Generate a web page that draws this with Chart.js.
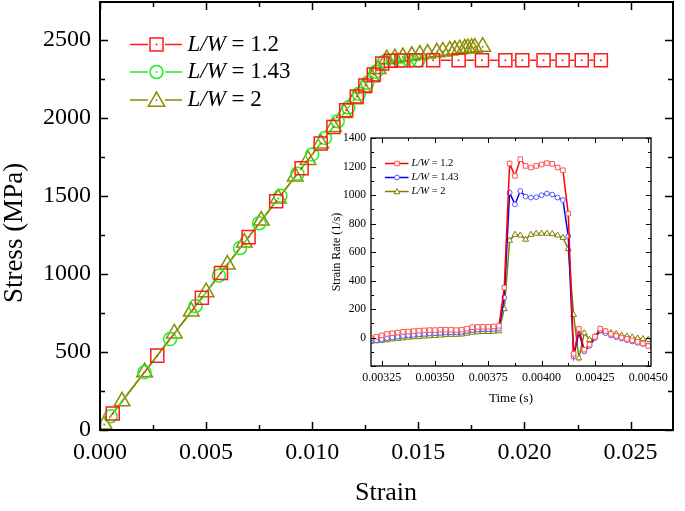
<!DOCTYPE html>
<html>
<head>
<meta charset="utf-8">
<script src="https://cdn.jsdelivr.net/npm/chart.js@4/dist/chart.umd.min.js"></script>
<style>
html,body{margin:0;padding:0;background:#fff;}
#wrap{position:relative;width:685px;height:511px;}
canvas{position:absolute;left:0;top:0;}
</style>
</head>
<body>
<div id="wrap">
<canvas id="main" width="685" height="511"></canvas>
<canvas id="inset" width="685" height="511"></canvas>
</div>
<script>
// ---------- main chart data ----------
const seriesNames = ['1.2', '1.43', '2'];
const strainLW12 = [0.0006, 0.0027, 0.0048, 0.0057, 0.0070, 0.0083, 0.0095, 0.0104, 0.0110, 0.0116, 0.0121, 0.0125, 0.0129, 0.0133, 0.0137, 0.0142, 0.0149, 0.0157, 0.0169, 0.0180, 0.0191, 0.0199, 0.0209, 0.0218, 0.0227, 0.0236];
const stressLW12 = [106, 477, 848, 1007, 1237, 1467, 1679, 1838, 1944, 2050, 2139, 2209, 2280, 2351, 2368, 2370, 2371, 2372, 2372, 2372, 2372, 2372, 2372, 2372, 2372, 2372];
const strainLW143 = [0.0005, 0.0021, 0.0033, 0.0045, 0.0056, 0.0066, 0.0075, 0.0085, 0.0093, 0.0100, 0.0106, 0.0112, 0.0117, 0.0122, 0.0126, 0.0130, 0.0134, 0.0138, 0.0142, 0.0146, 0.0150];
const stressLW143 = [88, 371, 583, 795, 990, 1167, 1326, 1502, 1644, 1767, 1873, 1980, 2068, 2156, 2227, 2298, 2362, 2368, 2370, 2371, 2372];
const strainLW2 = [0.0002, 0.00104, 0.0021, 0.0035, 0.0043, 0.0050, 0.0060, 0.0068, 0.0076, 0.0084, 0.0092, 0.0098, 0.0104, 0.0110, 0.0115, 0.0120, 0.0124, 0.0128, 0.0131, 0.01351, 0.01389, 0.01427, 0.01469, 0.01507, 0.01544, 0.01587, 0.01615, 0.01648, 0.01672, 0.01695, 0.01719, 0.01733, 0.01751, 0.01766, 0.01803];
const stressLW2 = [35, 184, 371, 619, 760, 884, 1061, 1202, 1343, 1485, 1626, 1732, 1838, 1944, 2033, 2121, 2192, 2262, 2315, 2378, 2385, 2392, 2400, 2408, 2414, 2422, 2428, 2434, 2438, 2442, 2446, 2449, 2451, 2453, 2458];
const strainTicks = [0, 0.005, 0.010, 0.015, 0.020, 0.025];
const strainMinor = [0.0025, 0.0075, 0.0125, 0.0175, 0.0225];
const stressTicks = [0, 500, 1000, 1500, 2000, 2500];
const stressMinor = [250, 750, 1250, 1750, 2250];

// ---------- inset data ----------
const timeS = [0.0032, 0.003225, 0.00325, 0.003275, 0.0033, 0.003325, 0.00335, 0.003375, 0.0034, 0.003425, 0.00345, 0.003475, 0.0035, 0.003525, 0.00355, 0.003575, 0.0036, 0.003625, 0.00365, 0.003675, 0.0037, 0.003725, 0.00375, 0.003775, 0.0038, 0.003825, 0.00385, 0.003875, 0.0039, 0.003925, 0.00395, 0.003975, 0.004, 0.004025, 0.00405, 0.004075, 0.0041, 0.004125, 0.00415, 0.004175, 0.0042, 0.004225, 0.00425, 0.004275, 0.0043, 0.004325, 0.00435, 0.004375, 0.0044, 0.004425, 0.00445, 0.004475, 0.0045];
const rateLW12 = [-5, 5, 15, 25, 30, 35, 40, 42, 45, 48, 50, 52, 52, 55, 55, 55, 52, 55, 62, 72, 75, 75, 75, 78, 82, 350, 1221, 1134, 1251, 1204, 1193, 1204, 1214, 1224, 1219, 1193, 1174, 869, -115, 60, -85, -50, 5, 62, 45, 25, 12, 0, -10, -20, -30, -42, -60];
const rateLW143 = [-25, -20, -12, -5, 0, 5, 10, 15, 18, 22, 25, 28, 30, 32, 35, 35, 35, 38, 45, 52, 55, 58, 58, 60, 62, 280, 1017, 934, 1028, 989, 982, 985, 998, 1010, 1003, 982, 965, 711, -134, 35, -98, -58, -5, 50, 30, 15, 2, -8, -18, -28, -38, -45, -55];
const rateLW2 = [-28, -25, -22, -18, -12, -8, -5, 0, 3, 5, 8, 10, 12, 15, 18, 20, 20, 22, 28, 35, 38, 40, 40, 42, 45, 200, 681, 722, 717, 688, 722, 730, 730, 730, 727, 717, 700, 622, 160, -145, 31, -16, 5, 45, 40, 32, 25, 15, 8, 2, -5, -10, -15];
const timeTicks = [0.00325, 0.0035, 0.00375, 0.004, 0.00425, 0.0045];
const timeMinor = [0.003375, 0.003625, 0.003875, 0.004125, 0.004375];
const rateTicks = [0, 200, 400, 600, 800, 1000, 1200, 1400];
const rateMajorAll = [-200, 0, 200, 400, 600, 800, 1000, 1200, 1400];
const rateMinor = [-100, 100, 300, 500, 700, 900, 1100, 1300];

const SERIF = "'Liberation Serif', 'Times New Roman', serif";
Chart.defaults.animation = false;
Chart.defaults.color = '#000';

const toXY = (xs, ys) => xs.map((x, i) => ({x: x, y: ys[i]}));

function markerPath(ctx, style, x, y, r) {
  ctx.beginPath();
  if (style === 'rect') {
    const s = r * Math.SQRT1_2;
    ctx.rect(x - s, y - s, 2 * s, 2 * s);
  } else if (style === 'circle') {
    ctx.arc(x, y, r, 0, Math.PI * 2);
  } else {
    for (let k = 0; k < 3; k++) {
      const a = k * 2 * Math.PI / 3;
      const px = x + Math.sin(a) * r, py = y - Math.cos(a) * r;
      if (k === 0) ctx.moveTo(px, py); else ctx.lineTo(px, py);
    }
    ctx.closePath();
  }
}

function boxTicks(cfg) {
  return {
    id: 'boxTicks',
    afterDraw(chart) {
      const ctx = chart.ctx, a = chart.chartArea;
      const xs = chart.scales.x, ys = chart.scales.y;
      ctx.save();
      ctx.strokeStyle = '#000';
      ctx.lineWidth = cfg.tickWidth;
      ctx.beginPath();
      const vx = (list, len) => list.forEach(v => {
        const p = Math.round(xs.getPixelForValue(v)) + 0.5;
        ctx.moveTo(p, a.bottom); ctx.lineTo(p, a.bottom - len);
        ctx.moveTo(p, a.top); ctx.lineTo(p, a.top + len);
      });
      const hy = (list, len) => list.forEach(v => {
        const p = Math.round(ys.getPixelForValue(v)) + 0.5;
        ctx.moveTo(a.left, p); ctx.lineTo(a.left + len, p);
        ctx.moveTo(a.right, p); ctx.lineTo(a.right - len, p);
      });
      vx(cfg.xMajor, cfg.major); vx(cfg.xMinor, cfg.minor);
      hy(cfg.yMajor, cfg.major); hy(cfg.yMinor, cfg.minor);
      ctx.stroke();
      ctx.lineWidth = cfg.borderWidth;
      ctx.strokeRect(a.left, a.top, a.right - a.left, a.bottom - a.top);
      ctx.restore();
    }
  };
}

function drawTitles(ctx, items) {
  items.forEach(t => {
    ctx.save();
    ctx.fillStyle = '#000';
    ctx.font = t.font;
    ctx.textAlign = 'center';
    ctx.textBaseline = 'middle';
    ctx.translate(t.x, t.y);
    if (t.rot) ctx.rotate(t.rot);
    ctx.fillText(t.text, 0, 0);
    ctx.restore();
  });
}

function drawLegend(ctx, items, L) {
  items.forEach((it, i) => {
    const y = L.rows[i];
    ctx.save();
    ctx.strokeStyle = it.color;
    ctx.lineWidth = L.lineWidth;
    ctx.beginPath();
    if (L.gap) {
      ctx.moveTo(L.x0, y); ctx.lineTo(L.mx - L.gap, y);
      ctx.moveTo(L.mx + L.gap, y); ctx.lineTo(L.x1, y);
    } else {
      ctx.moveTo(L.x0, y); ctx.lineTo(L.x1, y);
    }
    ctx.stroke();
    ctx.strokeStyle = it.mcolor || it.color;
    ctx.lineWidth = L.mWidth;
    markerPath(ctx, it.style, L.mx, y + (it.style === 'triangle' ? L.triOff : 0), it.r);
    if (L.fill) { ctx.fillStyle = L.fill; ctx.fill(); }
    ctx.stroke();
    if (L.dot) {
      ctx.fillStyle = it.mcolor || it.color;
      ctx.beginPath(); ctx.arc(L.mx, y, 1, 0, Math.PI * 2); ctx.fill();
    }
    ctx.fillStyle = '#000';
    ctx.textBaseline = 'middle';
    ctx.textAlign = 'left';
    ctx.font = 'italic ' + L.size + 'px ' + SERIF;
    ctx.fillText('L/W', L.tx, y);
    const w = ctx.measureText('L/W').width;
    ctx.font = L.size + 'px ' + SERIF;
    ctx.fillText(' = ' + it.label, L.tx + w, y);
    ctx.restore();
  });
}

const fixX = h => s => { s.height = h; s.paddingLeft = 0; s.paddingRight = 0; s.paddingTop = 0; s.paddingBottom = 0; };
const fixY = w => s => { s.width = w; s.paddingLeft = 0; s.paddingRight = 0; s.paddingTop = 0; s.paddingBottom = 0; };

// ---------- main chart ----------
const mainColors = ['#ff1a1a', '#22ee22', '#8c8c00'];
const mainStyles = ['rect', 'circle', 'triangle'];
const mainRadius = [9.2, 6.5, 9];
const mainGap = [7.5, 7.5, 8];

const gapLines = {
  id: 'gapLines',
  beforeDatasetsDraw(chart) {
    const ctx = chart.ctx, a = chart.chartArea;
    ctx.save();
    ctx.beginPath(); ctx.rect(a.left, a.top, a.right - a.left, a.bottom - a.top); ctx.clip();
    chart.data.datasets.forEach((ds, i) => {
      const pts = chart.getDatasetMeta(i).data;
      const g = ds.gap;
      ctx.strokeStyle = ds.borderColor;
      ctx.lineWidth = 1.5;
      ctx.beginPath();
      for (let j = 0; j < pts.length - 1; j++) {
        const p = pts[j], q = pts[j + 1];
        const dx = q.x - p.x, dy = q.y - p.y, d = Math.hypot(dx, dy);
        if (d <= 2 * g) continue;
        const ux = dx / d, uy = dy / d;
        ctx.moveTo(p.x + ux * g, p.y + uy * g);
        ctx.lineTo(q.x - ux * g, q.y - uy * g);
      }
      ctx.stroke();
    });
    ctx.restore();
  },
  afterDatasetsDraw(chart) {
    const ctx = chart.ctx;
    ctx.save();
    chart.data.datasets.forEach((ds, i) => {
      ctx.fillStyle = ds.borderColor;
      chart.getDatasetMeta(i).data.forEach(p => {
        ctx.beginPath(); ctx.arc(p.x, p.y, 1, 0, Math.PI * 2); ctx.fill();
      });
    });
    ctx.restore();
  }
};

const mainDecor = {
  id: 'mainDecor',
  afterDraw(chart) {
    const ctx = chart.ctx;
    drawTitles(ctx, [
      {text: 'Stress (MPa)', x: 15, y: 233, rot: -Math.PI / 2, font: '27px ' + SERIF},
      {text: 'Strain', x: 386, y: 493, font: '26px ' + SERIF}
    ]);
    drawLegend(ctx, seriesNames.map((n, i) => ({label: n, color: mainColors[i], style: mainStyles[i], r: i === 1 ? 6.5 : (i === 0 ? 9.2 : 9.5)})), {
      rows: [44.5, 72, 100], x0: 130, x1: 182, mx: 156.5, gap: 8.5, lineWidth: 1.5, mWidth: 1.5,
      tx: 187.5, size: 23, dot: true, triOff: 1.5
    });
  }
};

const mainDatasets = [
  [strainLW12, stressLW12], [strainLW143, stressLW143], [strainLW2, stressLW2]
].map((d, i) => ({
  label: 'L/W = ' + seriesNames[i],
  data: toXY(d[0], d[1]),
  showLine: false,
  borderColor: mainColors[i],
  backgroundColor: 'rgba(0,0,0,0)',
  pointStyle: mainStyles[i],
  pointRadius: mainRadius[i],
  pointBorderWidth: 1.5,
  pointBackgroundColor: 'rgba(0,0,0,0)',
  pointBorderColor: mainColors[i],
  gap: mainGap[i]
}));

new Chart(document.getElementById('main'), {
  type: 'scatter',
  data: {datasets: mainDatasets},
  options: {
    responsive: false,
    devicePixelRatio: 1,
    layout: {autoPadding: false, padding: {left: 0, top: 2, right: 12, bottom: 0}},
    plugins: {legend: {display: false}, tooltip: {enabled: false}},
    scales: {
      x: {
        type: 'linear', min: 0, max: 0.027,
        afterBuildTicks: s => { s.ticks = strainTicks.map(v => ({value: v})); },
        afterFit: fixX(81),
        ticks: {callback: v => Number(v).toFixed(3), font: {family: SERIF, size: 24}, color: '#000', padding: 8, autoSkip: false, maxRotation: 0},
        grid: {display: false, drawTicks: false},
        border: {display: false}
      },
      y: {
        type: 'linear', min: 0, max: 2745,
        afterBuildTicks: s => { s.ticks = stressTicks.map(v => ({value: v})); },
        afterFit: fixY(100),
        ticks: {callback: v => String(v), font: {family: SERIF, size: 24}, color: '#000', padding: 9, autoSkip: false},
        grid: {display: false, drawTicks: false},
        border: {display: false}
      }
    }
  },
  plugins: [gapLines, boxTicks({xMajor: strainTicks, xMinor: strainMinor, yMajor: stressTicks, yMinor: stressMinor, major: 8, minor: 5, tickWidth: 1.5, borderWidth: 2}), mainDecor]
});

// ---------- inset chart ----------
const insetLine = ['#ff0000', '#0000ff', '#808000'];
const insetMark = ['#ff5555', '#5555ff', '#808000'];
const insetStyles = ['rect', 'circle', 'triangle'];
const insetRadius = [3.2, 2.4, 3.4];

const insetDecor = {
  id: 'insetDecor',
  afterDraw(chart) {
    const ctx = chart.ctx;
    drawTitles(ctx, [
      {text: 'Strain Rate (1/s)', x: 337, y: 252, rot: -Math.PI / 2, font: '12px ' + SERIF},
      {text: 'Time (s)', x: 511, y: 399, font: '13px ' + SERIF}
    ]);
    drawLegend(ctx, seriesNames.map((n, i) => ({label: n, color: insetLine[i], mcolor: insetMark[i], style: insetStyles[i], r: insetRadius[i]})), {
      rows: [163.5, 177.5, 191.5], x0: 385, x1: 408.5, mx: 397, gap: 0, lineWidth: 1.5, mWidth: 1,
      tx: 411.5, size: 10.5, dot: false, fill: '#fff', triOff: 0.5
    });
  }
};

const insetDatasets = [rateLW12, rateLW143, rateLW2].map((r, i) => ({
  label: 'L/W = ' + seriesNames[i],
  data: toXY(timeS, r),
  showLine: true,
  borderColor: insetLine[i],
  borderWidth: 1.5,
  backgroundColor: '#fff',
  pointStyle: insetStyles[i],
  pointRadius: insetRadius[i],
  pointBorderWidth: 1,
  pointBorderColor: insetMark[i],
  pointBackgroundColor: '#fff',
  tension: 0
}));

new Chart(document.getElementById('inset'), {
  type: 'scatter',
  data: {datasets: insetDatasets},
  options: {
    responsive: false,
    devicePixelRatio: 1,
    layout: {autoPadding: false, padding: {left: 320, top: 138, right: 34, bottom: 101}},
    plugins: {legend: {display: false}, tooltip: {enabled: false}},
    scales: {
      x: {
        type: 'linear', min: 0.0032, max: 0.004513,
        afterBuildTicks: s => { s.ticks = timeTicks.map(v => ({value: v})); },
        afterFit: fixX(44),
        ticks: {callback: v => Number(v).toFixed(5), font: {family: SERIF, size: 12}, color: '#000', padding: 5, autoSkip: false, maxRotation: 0},
        grid: {display: false, drawTicks: false},
        border: {display: false}
      },
      y: {
        type: 'linear', min: -200, max: 1400,
        afterBuildTicks: s => { s.ticks = rateTicks.map(v => ({value: v})); },
        afterFit: fixY(51),
        ticks: {callback: v => String(v), font: {family: SERIF, size: 11.5}, color: '#000', padding: 5, autoSkip: false},
        grid: {display: false, drawTicks: false},
        border: {display: false}
      }
    }
  },
  plugins: [boxTicks({xMajor: timeTicks, xMinor: timeMinor, yMajor: rateMajorAll, yMinor: rateMinor, major: 5, minor: 3, tickWidth: 1, borderWidth: 1.3}), insetDecor]
});
</script>
</body>
</html>
